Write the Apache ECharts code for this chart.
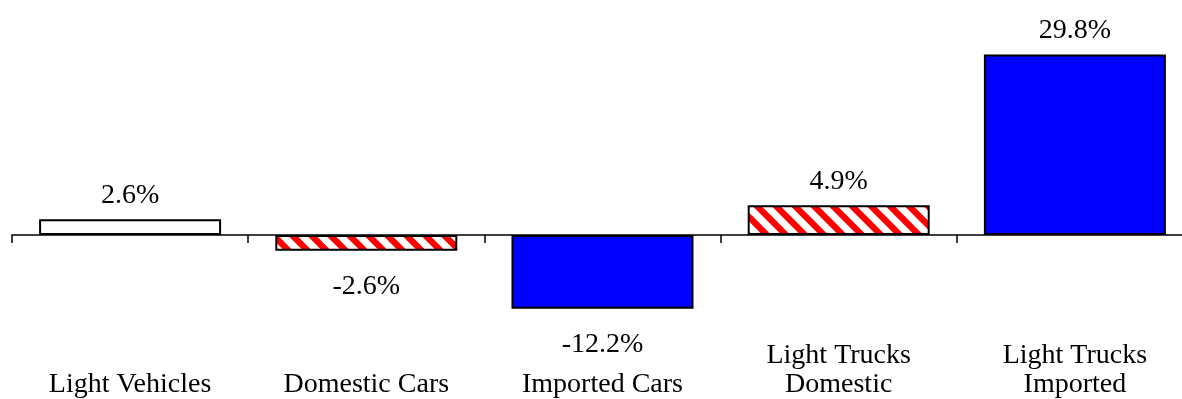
<!DOCTYPE html>
<html>
<head>
<meta charset="utf-8">
<script src="https://cdn.jsdelivr.net/npm/echarts@6/dist/echarts.min.js"></script>
<style>
  html, body { margin: 0; padding: 0; background: #fff; overflow: hidden; }
  /* the last category runs a little past the right edge of the window */
  #chart { width: 1193px; height: 399px; }
</style>
</head>
<body>
<div id="chart"></div>
<script>
// data
const categories = ['Light Vehicles', 'Domestic Cars', 'Imported Cars', 'Light Trucks\nDomestic', 'Light Trucks\nImported']
const changes = [2.6, -2.6, -12.2, 4.9, 29.8]
const fills = ['white', 'hatch', 'blue', 'hatch', 'blue']

// red / white diagonal stripes
function makeHatch () {
  const s = 19
  const c = document.createElement('canvas')
  c.width = s
  c.height = s
  const ctx = c.getContext('2d')
  ctx.fillStyle = '#fff'
  ctx.fillRect(0, 0, s, s)
  ctx.strokeStyle = '#ff0000'
  ctx.lineWidth = 6.3
  for (const k of [-s, 0, s]) {
    ctx.beginPath()
    ctx.moveTo(k - 3, -3)
    ctx.lineTo(k + s + 3, s + 3)
    ctx.stroke()
  }
  return c
}
const hatch = { image: makeHatch(), repeat: 'repeat' }

function fillOf (f) {
  if (f === 'hatch') return hatch
  if (f === 'blue') return '#0000ff'
  return '#ffffff'
}

const font = '"Liberation Serif", "Times New Roman", serif'

let myChart = echarts.init(document.getElementById('chart'))
myChart.setOption({
  animation: false,
  grid: { left: 12, right: 0, top: 23, height: 334 },
  xAxis: [
    {
      type: 'category',
      data: categories,
      axisLine: { onZero: true, lineStyle: { color: '#000', width: 1.5 } },
      axisTick: { show: true, length: 8, lineStyle: { color: '#000', width: 1.5 } },
      axisLabel: { show: false }
    },
    {
      // labels only, kept at the bottom
      type: 'category',
      data: categories,
      position: 'bottom',
      axisLine: { show: false, onZero: false },
      axisTick: { show: false },
      axisLabel: {
        interval: 0,
        margin: 43,
        verticalAlign: 'bottom',
        fontFamily: font,
        fontSize: 28,
        lineHeight: 29,
        color: '#000'
      }
    }
  ],
  yAxis: {
    type: 'value',
    min: -20,
    max: 35,
    show: false,
    splitLine: { show: false }
  },
  series: [
    {
      type: 'bar',
      xAxisIndex: 0,
      barWidth: 182,
      data: changes.map((v, i) => ({
        value: v,
        itemStyle: { color: fillOf(fills[i]), borderColor: '#000', borderWidth: 2 },
        label: {
          show: true,
          position: v >= 0 ? 'top' : 'bottom',
          distance: v >= 0 ? 10 : 22,
          formatter: v.toFixed(1) + '%',
          fontFamily: font,
          fontSize: 28,
          color: '#000'
        }
      }))
    }
  ]
})
</script>
</body>
</html>
